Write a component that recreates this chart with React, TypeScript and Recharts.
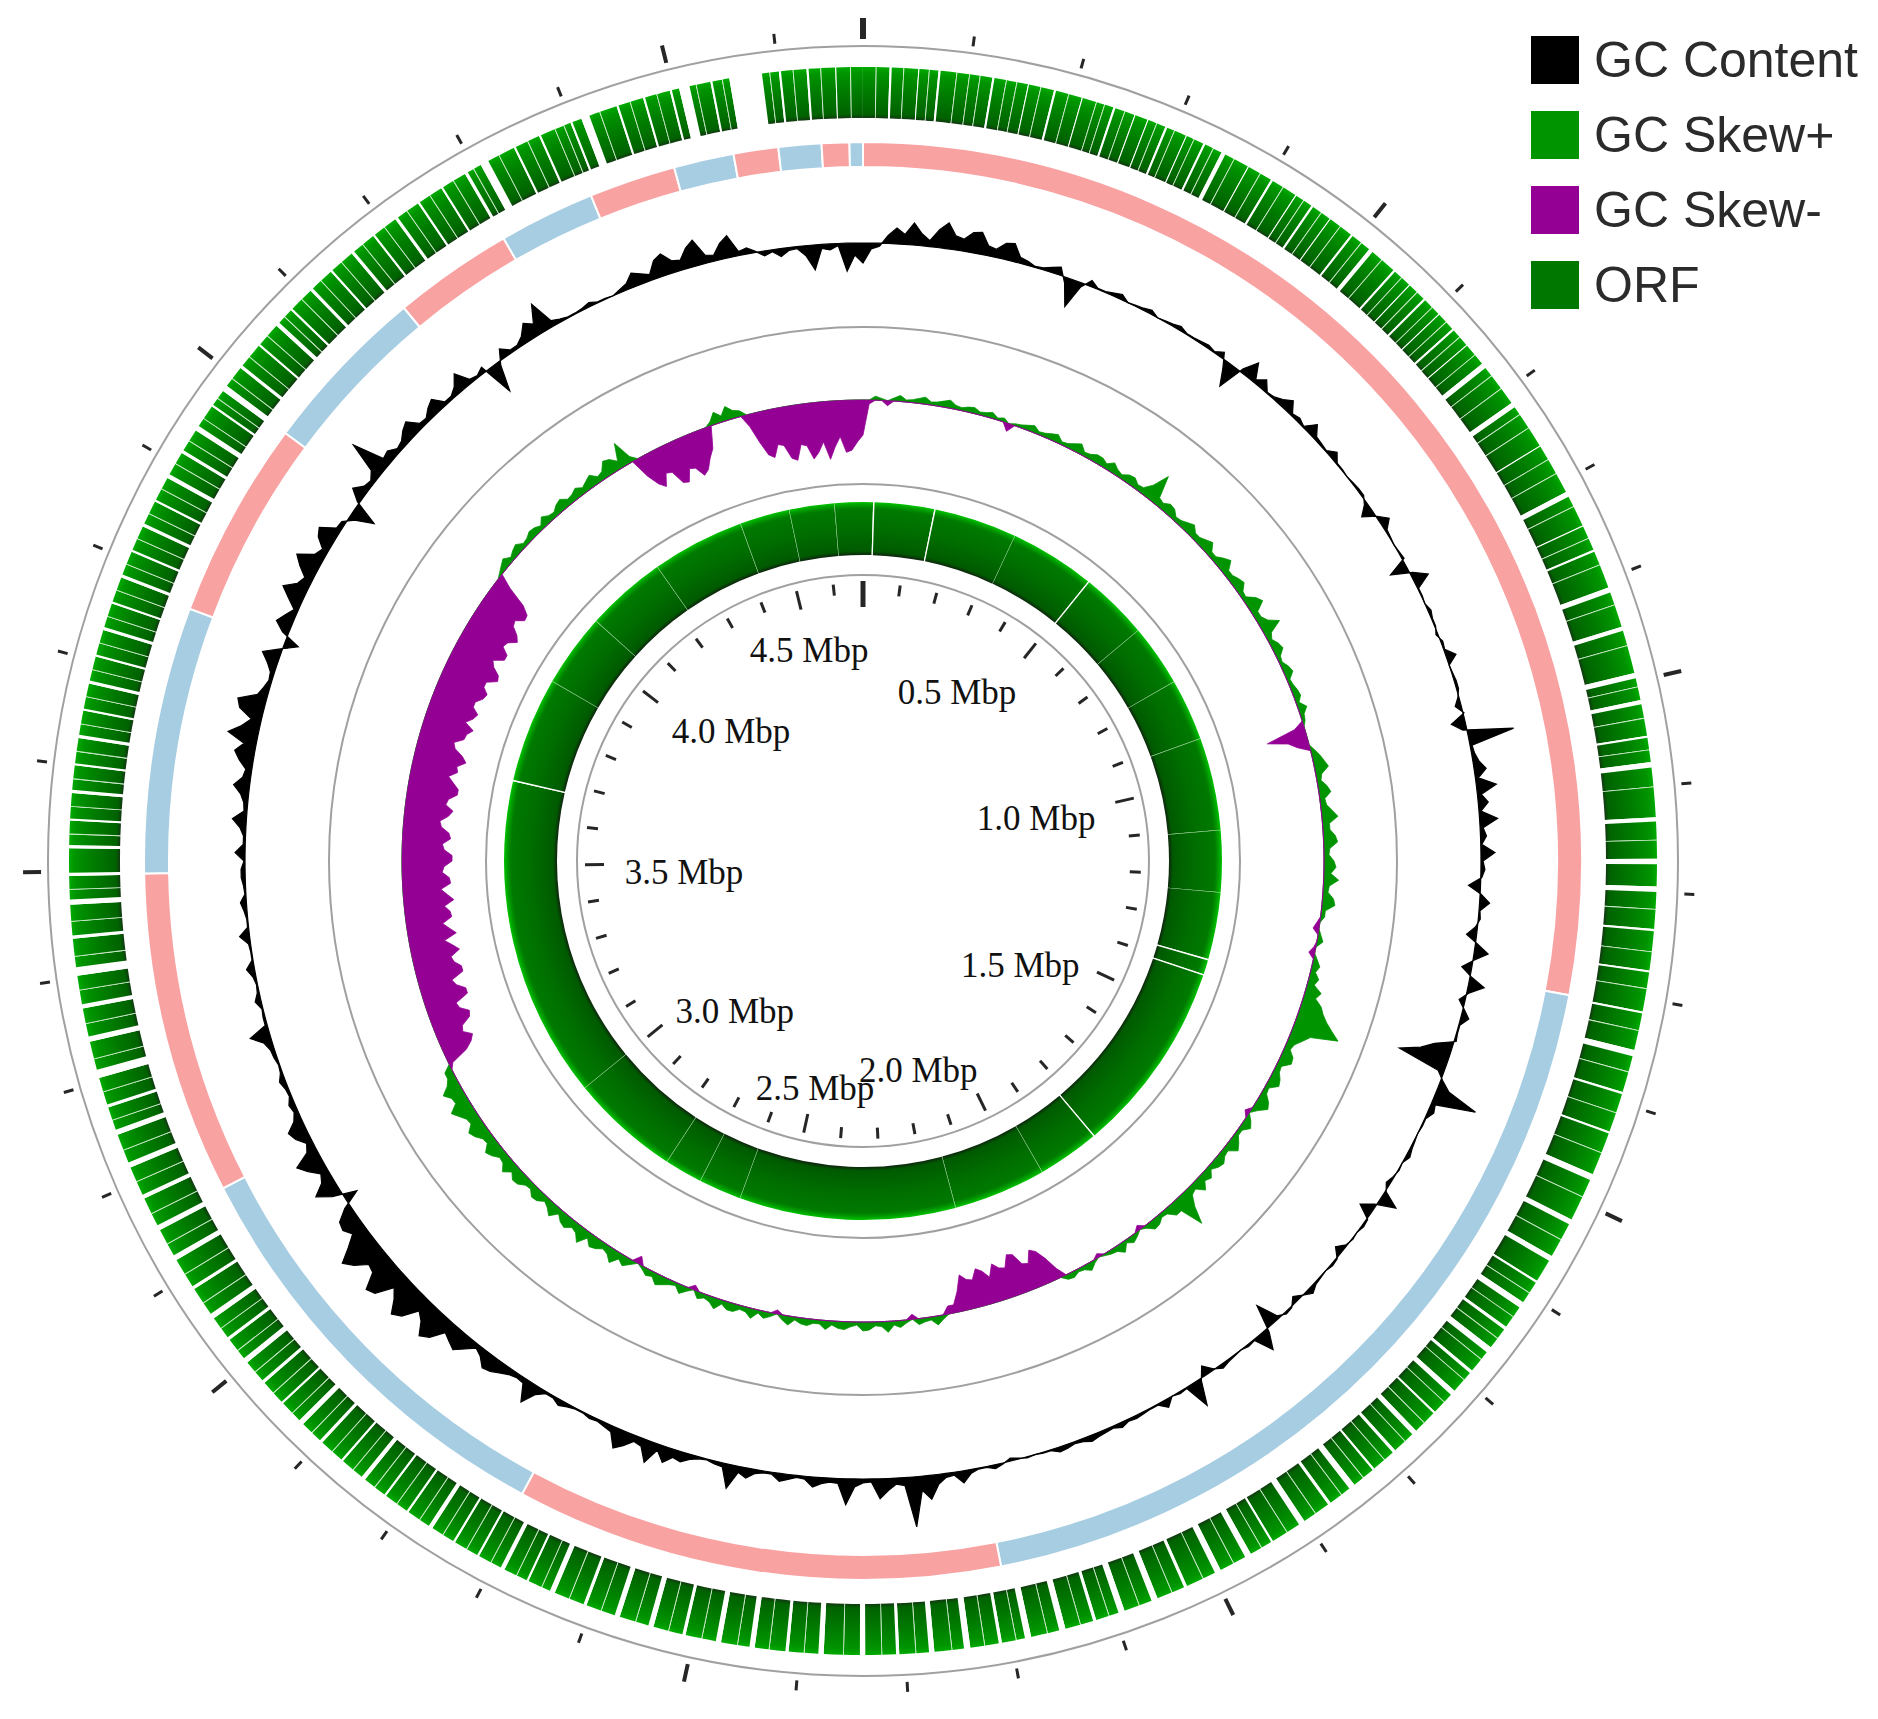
import React from 'react';
import {
  PieChart,
  Pie,
  Cell,
  RadarChart,
  Radar,
  PolarGrid,
  PolarAngleAxis,
  PolarRadiusAxis,
  Legend,
} from 'recharts';

// genome ruler
const GENOME_KB = 4680;
const STEP_KB = 10;

// GC content deviation, one value per 10 kb window, clockwise from 0
const gcContent = [
  -20, -6, -3, 8, 16, 10, 22, 12, 6, 18, 26, 14, 12, 20, 22, 10, 8, 16, 18, 6,
  4, 1, 2, 5, 8, -6, -28, -4, 6, 1, 1, 3, 5, 0, 1, 2, 4, 0, 1, 2,
  4, 1, 1, 2, 3, 1, 6, -8, -24, 4, 18, 3, 10, 1, 2, 6, 12, 2, 4, 1,
  12, 3, 2, 1, 8, 1, 1, 0, 1, 2, 2, -3, -12, 1, 10, 2, 1, 0, 1, 2,
  -18, 3, 16, 1, 1, 0, 3, 1, 1, -2, 2, 1, 10, 0, 1, 2, 2, -1, -6, 1,
  -14, -4, 46, 2, 3, 6, 12, 3, 20, 4, 10, 2, 18, 3, 6, 1, 14, 2, 4, 1,
  -12, 1, 10, 1, 2, -2, -10, 2, 14, 1, -10, 1, 16, 2, -6, 1, 8, 1, 1, 2,
  -18, -30, -50, -6, 2, 12, 44, 4, 6, 1, 1, 0, 1, 2, 4, 0, 1, -1, -4, 1,
  18, -2, -14, 1, 2, 0, 1, -1, -8, 1, 2, 0, 1, 2, 6, 0, -6, 1, 2, -3,
  -24, 4, 20, 1, 2, 0, 1, 2, 4, -1, -10, 2, 26, 1, 2, 0, 8, 1, 1, 2,
  3, 2, 5, 2, 3, 4, 6, 3, 2, 4, 5, 1, 1, 0, 1, -1, -3, 1, 4, 1,
  1, 4, 12, 3, 4, 10, 24, 14, 50, 8, 6, 12, 20, 3, 4, 8, 26, 5, 4, 6,
  10, 3, 2, 5, 8, 2, 2, 4, 10, 6, 24, 4, 3, 1, 2, 5, 10, 8, 16, 6,
  22, 8, 6, 14, 20, 6, 4, 2, 3, 1, 1, 3, 6, 2, 2, 8, 22, 5, 4, 6,
  10, 14, 16, 8, 4, 12, 20, 16, 12, 26, 32, 20, 14, 30, 36, 24, 16, 34, 38, 22,
  20, 32, 40, 26, 14, 20, 18, 6, -14, 10, 24, 12, 8, 18, 26, 10, 6, 14, 18, 8,
  4, 6, 2, 3, 6, 2, 1, 3, 4, 8, 20, 2, 2, 1, 6, 2, 1, 3, 8, 1,
  1, 2, 10, 1, 1, 3, 6, 1, 2, 4, 4, 1, 10, 2, 2, 6, 14, 3, 4, 8,
  16, 8, 6, 14, 20, 12, 30, 18, 10, 24, 28, 10, 6, 3, 4, 10, 18, 2, -14, 6,
  16, 10, 4, 14, 24, 12, 8, 18, 26, 10, 6, 16, 20, 5, 4, -6, -24, 2, 14, 6,
  4, 10, 40, 8, 10, 4, 6, 12, 16, 5, 4, 10, 14, 3, 3, 8, 18, 4, 2, 6,
  -30, -4, 10, 3, 3, 8, 18, 12, 30, 6, 3, 1, 1, 2, 4, 1, 1, 0, 3, 6,
  14, 10, 6, 18, 22, 12, 10, 20, 26, 8, 6, 16, 22, 4, 6, 1, -5, -2, -8, -3,
  -2, -10, -25, -4, -6, -2, -28, -12,
];

// GC skew, same windows (positive = leading strand)
const gcSkew = [
  -35, -4, 4, 2, -5, 3, 6, 2, 3, 5, 7, 3, 4, 6, 8, 4, 3, 5, 6, 3,
  4, 6, 2, 4, -8, 2, 3, 5, 7, 3, 4, 6, 8, 3, 4, 7, 10, 4, 5, 8,
  8, 5, 10, 6, 4, 8, 9, 5, 6, 14, 30, 8, 6, 10, 9, 4, 5, 8, 11, 6,
  6, 9, 12, 5, 5, 10, 14, 6, 6, 9, 11, 5, 4, 12, 16, 6, 6, 10, 20, 7,
  4, 8, 10, 4, 3, 7, 9, 3, 4, 6, 7, 3, 9, 4, 3, -10, -40, -20, -12, 4,
  8, 11, 14, 6, 4, 9, 12, 5, 6, 11, 16, 7, 7, 12, 14, 6, 5, 10, 12, 7,
  15, 6, 5, 11, 13, 4, 4, -3, -6, 3, 6, -2, -6, 4, 8, 5, 10, 7, 16, 12,
  20, 24, 30, 38, 47, 20, 14, 8, 6, 12, 13, 5, 6, 10, 12, 4, 5, 11, 14, 6,
  -5, 6, 10, 4, 4, 9, 13, 5, 6, 10, 8, 4, 10, 7, 14, 6, 8, 18, 35, 12,
  12, 5, 4, 8, 9, 3, -5, 4, 7, 3, 10, 5, 4, 2, -4, 3, 8, 4, 3, 6,
  5, -10, -24, -34, -38, -26, -28, -40, -42, -30, -32, -38, -26, -34, -38, -28, -30, -36, -20, -8,
  -8, 4, 9, 3, 4, 6, -5, 3, 7, 4, 11, 5, 4, 8, 9, 3, 5, 8, 7, 4,
  9, 4, 4, 7, 6, 3, 9, 5, -4, 4, 7, 3, 10, 5, 4, 8, 8, 4, 11, 6,
  4, 7, -5, 4, 9, 3, 5, 8, 11, 5, 7, 3, -8, 5, 10, 6, 14, 8, 6, 10,
  12, 6, 16, 9, 7, 12, 10, 5, 13, 8, 5, 10, 11, 6, 7, 12, 13, 8, 15, 9,
  8, 13, 16, 9, 10, 15, 18, 11, 12, 17, 22, 13, 14, 20, 12, 8, 8, -4, -22, -30,
  -34, -26, -28, -38, -40, -32, -30, -44, -44, -36, -33, -46, -46, -40, -38, -48, -42, -35, -48, -42,
  -36, -46, -45, -40, -50, -44, -38, -48, -47, -40, -42, -50, -50, -42, -40, -48, -46, -38, -36, -44,
  -48, -40, -42, -50, -50, -44, -38, -46, -44, -52, -47, -38, -35, -44, -45, -50, -40, -46, -49, -42,
  -42, -48, -50, -44, -44, -54, -52, -44, -40, -50, -50, -42, -44, -52, -48, -40, -38, -46, -45, -36,
  -15, 3, 6, 9, 4, 7, 9, 4, 5, 8, 7, 4, 10, 6, 5, 9, 11, 6, 7, 10,
  6, 9, 12, 6, 8, 16, 14, 8, 25, 6, -20, -32, -38, -26, -28, -42, -44, -32, -34, -44,
  -40, -30, -22, 4, 12, 6, 14, 8, 6, -12, -30, -44, -48, -36, -38, -52, -55, -40, -42, -56,
  -50, -40, -58, -46, -36, -52, -50, -42,
];

// contigs, kb, clockwise from 0 (alternating pink / blue)
const contigLengths = [1310, 886, 512, 450, 339, 280, 208, 179, 126, 101, 91, 63, 47, 45, 29, 14];

// outer ORF track: clear breaks between genes [start kb, length kb]
const orfOuterGaps = [
  [25, 2], [52, 1], [71, 2], [122, 2], [156, 1], [181, 2], [208, 1], [239, 2], [260, 1], [273, 1],
  [291, 2], [312, 1], [330, 2], [349, 4], [377, 1], [402, 2], [429, 1], [447, 2], [468, 1], [493, 2],
  [515, 4], [545, 2], [565, 1], [584, 2], [604, 1], [623, 2], [643, 1], [666, 5], [712, 5], [760, 1],
  [810, 5], [845, 1], [870, 2], [908, 5], [947, 4], [992, 5], [1018, 4], [1052, 2], [1077, 5], [1129, 4],
  [1168, 5], [1194, 5], [1234, 2], [1273, 2], [1312, 2], [1349, 6], [1390, 2], [1429, 2], [1472, 6], [1519, 5],
  [1558, 5], [1585, 2], [1609, 6], [1637, 3], [1661, 6], [1689, 3], [1714, 5], [1741, 2], [1766, 5], [1793, 3],
  [1819, 2], [1843, 6], [1871, 3], [1901, 6], [1936, 2], [1960, 6], [1992, 6], [2027, 3], [2057, 6], [2090, 6],
  [2118, 3], [2148, 6], [2181, 6], [2209, 3], [2239, 6], [2273, 5], [2306, 3], [2338, 5], [2377, 5], [2410, 3],
  [2442, 5], [2474, 5], [2508, 3], [2539, 5], [2572, 5], [2605, 3], [2637, 5], [2664, 2], [2689, 4], [2716, 2],
  [2742, 2], [2767, 4], [2794, 2], [2820, 2], [2845, 4], [2872, 2], [2898, 3], [2923, 5], [2950, 2], [2976, 3],
  [3001, 5], [3028, 3], [3053, 5], [3086, 3], [3118, 5], [3150, 5], [3183, 4], [3215, 5], [3248, 5], [3275, 3],
  [3304, 8], [3339, 5], [3371, 4], [3402, 8], [3437, 3], [3469, 5], [3496, 3], [3522, 3], [3548, 2], [3574, 3],
  [3600, 2], [3626, 3], [3652, 2], [3678, 3], [3704, 2], [3730, 3], [3756, 2], [3782, 3], [3808, 2], [3834, 3],
  [3860, 2], [3885, 4], [3912, 3], [3937, 5], [3964, 2], [3982, 6], [4009, 3], [4036, 2], [4061, 4], [4081, 2],
  [4107, 3], [4133, 2], [4159, 3], [4185, 2], [4211, 3], [4237, 2], [4263, 2], [4289, 3], [4306, 8], [4341, 2],
  [4367, 2], [4399, 2], [4410, 8], [4445, 2], [4471, 2], [4497, 2], [4506, 10], [4536, 2], [4554, 31], [4601, 2],
  [4627, 2], [4654, 1],
];

// outer ORF track: faint gene boundaries inside the blocks (kb)
const orfOuterSeams = [
  12, 38, 62, 88, 100, 110, 135, 145, 168, 195, 222, 230, 250, 282, 300, 320, 340, 362, 390, 415,
  438, 458, 480, 505, 530, 555, 575, 595, 614, 633, 655, 680, 695, 725, 740, 775, 790, 825, 858, 885,
  925, 965, 1005, 1035, 1065, 1100, 1150, 1215, 1255, 1290, 1330, 1370, 1410, 1450, 1495, 1540, 1598, 1625,
  1650, 1675, 1700, 1728, 1755, 1780, 1806, 1832, 1858, 1888, 1920, 1948, 1978, 2010, 2042, 2075, 2105,
  2133, 2165, 2195, 2225, 2256, 2290, 2322, 2358, 2395, 2428, 2458, 2492, 2524, 2556, 2590, 2622, 2650,
  2676, 2703, 2729, 2755, 2781, 2807, 2833, 2859, 2885, 2911, 2937, 2963, 2989, 3015, 3041, 3070, 3102,
  3135, 3167, 3200, 3232, 3262, 3290, 3322, 3356, 3388, 3420, 3453, 3483, 3535, 3561, 3587, 3613, 3639,
  3665, 3691, 3717, 3743, 3769, 3795, 3821, 3847, 3873, 3900, 3925, 3950, 3973, 3996, 4022, 4048, 4072,
  4095, 4120, 4146, 4172, 4198, 4224, 4250, 4276, 4298, 4325, 4355, 4383, 4392, 4428, 4458, 4484, 4522,
  4547, 4592, 4614, 4640, 4668,
];

// inner ORF track: clear breaks and faint seams [start kb, length kb]
const orfInnerGaps = [[21, 3], [149, 3], [505, 3], [1376, 3], [1409, 3], [1818, 3], [3677, 3]];
const orfInnerSeams = [
  [325, 1], [650, 1], [780, 1], [910, 1], [1105, 1], [1235, 1], [1950, 1], [2145, 1], [2600, 1],
  [2690, 1], [2770, 1], [3000, 1], [3900, 1], [4055, 1], [4225, 1], [4420, 1], [4525, 1], [4620, 1],
];

const legendItems = [
  { label: 'GC Content', color: '#000000' },
  { label: 'GC Skew+', color: '#009400' },
  { label: 'GC Skew-', color: '#940094' },
  { label: 'ORF', color: '#007800' },
];

const W = 1878;
const H = 1719;
const CX = 863;
const CY = 861;
const NO_MARGIN = { top: 0, right: 0, bottom: 0, left: 0 };
const RAD = Math.PI / 180;

const trackData = gcContent.map((gc, i) => ({ kb: i * STEP_KB, gc, skew: gcSkew[i] }));

const contigData = contigLengths.map((len, i) => ({ len, color: i % 2 === 0 ? '#f8a2a2' : '#a7cde2' }));

type Mark = { s: number; l: number; fill: string };

function ringSegments(marks: Mark[], fill: string) {
  const sorted = [...marks].sort((a, b) => a.s - b.s);
  const out: { len: number; fill: string }[] = [];
  let pos = 0;
  for (const m of sorted) {
    if (m.s < pos) continue;
    if (m.s > pos) out.push({ len: m.s - pos, fill });
    out.push({ len: m.l, fill: m.fill });
    pos = m.s + m.l;
  }
  if (pos < GENOME_KB) out.push({ len: GENOME_KB - pos, fill });
  return out;
}

const outerOrfData = ringSegments(
  [
    ...orfOuterGaps.map(([s, l]) => ({ s, l, fill: '#ffffff' })),
    ...orfOuterSeams.map((s) => ({ s, l: 0.8, fill: '#c4e8c4' })),
  ],
  'url(#orfOuterGrad)'
);
const innerOrfData = ringSegments(
  [
    ...orfInnerGaps.map(([s, l]) => ({ s, l, fill: '#ffffff' })),
    ...orfInnerSeams.map(([s, l]) => ({ s, l, fill: '#6cc06c' })),
  ],
  'url(#orfInnerGrad)'
);

function polarAt(cx: number, cy: number, r: number, angle: number) {
  return { x: cx + r * Math.cos(-angle * RAD), y: cy + r * Math.sin(-angle * RAD) };
}
function polar(r: number, angle: number) {
  return polarAt(CX, CY, r, angle);
}

// contig block drawn as an arc with a pointed clockwise end
const ArrowSector = (props: any) => {
  const { cx, cy, innerRadius, outerRadius, startAngle, endAngle, fill } = props;
  const span = endAngle - startAngle;
  const dir = span < 0 ? -1 : 1;
  const tip = Math.min(0.9, Math.abs(span) * 0.45);
  const shoulder = endAngle - dir * tip;
  const mid = (innerRadius + outerRadius) / 2;
  const o0 = polarAt(cx, cy, outerRadius, startAngle);
  const o1 = polarAt(cx, cy, outerRadius, shoulder);
  const t = polarAt(cx, cy, mid, endAngle);
  const i1 = polarAt(cx, cy, innerRadius, shoulder);
  const i0 = polarAt(cx, cy, innerRadius, startAngle);
  const large = Math.abs(shoulder - startAngle) > 180 ? 1 : 0;
  const sweep = dir < 0 ? 1 : 0;
  const d = [
    `M${o0.x},${o0.y}`,
    `A${outerRadius},${outerRadius} 0 ${large} ${sweep} ${o1.x},${o1.y}`,
    `L${t.x},${t.y}`,
    `L${i1.x},${i1.y}`,
    `A${innerRadius},${innerRadius} 0 ${large} ${1 - sweep} ${i0.x},${i0.y}`,
    'Z',
  ].join(' ');
  return <path d={d} fill={fill} stroke="#ffffff" strokeWidth={1.5} />;
};

const OuterTick = (props: any) => {
  const kb = Number(props.payload.value);
  if (kb % 100 !== 0) return <g />;
  const zero = kb === 0;
  const major = kb % 500 === 0;
  const a = polar(822, props.payload.coordinate);
  const b = polar(zero ? 843 : major ? 840 : 832, props.payload.coordinate);
  return (
    <line x1={a.x} y1={a.y} x2={b.x} y2={b.y} stroke="#262626" strokeWidth={zero ? 6 : major ? 4 : 3} />
  );
};

const InnerTick = (props: any) => {
  const kb = Number(props.payload.value);
  if (kb % 100 !== 0) return <g />;
  const angle = props.payload.coordinate;
  const zero = kb === 0;
  const major = kb % 500 === 0;
  const a = polar(zero ? 280 : 278, angle);
  const b = polar(zero ? 254 : major ? 259 : 267, angle);
  let label = null;
  if (major && !zero) {
    const p = polar(225, angle);
    const s = (p.x - CX) / 225;
    const k = Math.min(1, Math.max(0, (Math.abs(s) - 0.25) / 0.2));
    label = (
      <text
        x={p.x - 46 * Math.sign(s) * k}
        y={p.y + 8}
        textAnchor="middle"
        dominantBaseline="central"
        fontFamily='"Liberation Serif", "Times New Roman", serif'
        fontSize={35}
        fill="#111111"
      >
        {`${(kb / 1000).toFixed(1)} Mbp`}
      </text>
    );
  }
  return (
    <g>
      <line x1={a.x} y1={a.y} x2={b.x} y2={b.y} stroke="#262626" strokeWidth={zero ? 5 : 3} />
      {label}
    </g>
  );
};

const renderLegend = () => (
  <div
    style={{
      fontFamily: '"Liberation Sans", Arial, sans-serif',
      fontSize: 50,
      color: '#2b2b2b',
      lineHeight: 1,
    }}
  >
    {legendItems.map((item) => (
      <div key={item.label} style={{ display: 'flex', alignItems: 'center', height: 75 }}>
        <span
          style={{ display: 'inline-block', width: 48, height: 48, background: item.color, marginRight: 15 }}
        />
        <span>{item.label}</span>
      </div>
    ))}
  </div>
);

const layer: React.CSSProperties = { position: 'absolute', left: 0, top: 0 };

export default function App() {
  return (
    <div style={{ position: 'absolute', left: 0, top: 0, width: W, height: H, background: '#ffffff' }}>
      {/* feature rings */}
      <div style={layer}>
        <PieChart width={W} height={H} margin={NO_MARGIN}>
          <defs>
            <radialGradient id="orfOuterGrad" gradientUnits="userSpaceOnUse" cx={CX} cy={CY} r={794}>
              <stop offset={743 / 794} stopColor="#123812" />
              <stop offset={747 / 794} stopColor="#006200" />
              <stop offset={770 / 794} stopColor="#007c00" />
              <stop offset={788 / 794} stopColor="#009400" />
              <stop offset={1} stopColor="#00aa00" />
            </radialGradient>
            <radialGradient id="orfInnerGrad" gradientUnits="userSpaceOnUse" cx={CX} cy={CY} r={359}>
              <stop offset={306 / 359} stopColor="#0e260e" />
              <stop offset={310 / 359} stopColor="#005a00" />
              <stop offset={330 / 359} stopColor="#006c00" />
              <stop offset={352 / 359} stopColor="#007a00" />
              <stop offset={356 / 359} stopColor="#00a000" />
              <stop offset={1} stopColor="#00c400" />
            </radialGradient>
          </defs>
          <Pie
            data={outerOrfData}
            dataKey="len"
            cx={CX}
            cy={CY}
            innerRadius={743}
            outerRadius={794}
            startAngle={90}
            endAngle={-270}
            stroke="none"
            isAnimationActive={false}
          >
            {outerOrfData.map((d, i) => (
              <Cell key={`o-${i}`} fill={d.fill} />
            ))}
          </Pie>
          <Pie
            data={contigData}
            dataKey="len"
            cx={CX}
            cy={CY}
            innerRadius={694}
            outerRadius={719}
            startAngle={90}
            endAngle={-270}
            stroke="#ffffff"
            strokeWidth={2}
            inactiveShape={ArrowSector}
            isAnimationActive={false}
          >
            {contigData.map((d, i) => (
              <Cell key={`c-${i}`} fill={d.color} />
            ))}
          </Pie>
          <Pie
            data={innerOrfData}
            dataKey="len"
            cx={CX}
            cy={CY}
            innerRadius={306}
            outerRadius={359}
            startAngle={90}
            endAngle={-270}
            stroke="none"
            isAnimationActive={false}
          >
            {innerOrfData.map((d, i) => (
              <Cell key={`i-${i}`} fill={d.fill} />
            ))}
          </Pie>
          <Legend content={renderLegend} wrapperStyle={{ left: 1531, top: 22, width: 347 }} />
        </PieChart>
      </div>

      {/* GC content track, grid circles, outer ruler */}
      <div style={layer}>
        <RadarChart
          width={W}
          height={H}
          data={trackData}
          cx={CX}
          cy={CY}
          innerRadius={548}
          outerRadius={688}
          margin={NO_MARGIN}
        >
          <PolarGrid
            gridType="circle"
            radialLines={false}
            polarRadius={[815, 534, 377, 286]}
            stroke="#a0a0a0"
            strokeWidth={2}
          />
          <PolarAngleAxis dataKey="kb" axisLine={false} tickLine={false} tick={OuterTick} />
          <PolarRadiusAxis domain={[-70, 70]} tick={false} axisLine={false} />
          <Radar
            dataKey={(d: any) => [0, d.gc]}
            fill="#000000"
            fillOpacity={1}
            stroke="#000000"
            strokeWidth={1.2}
            isAnimationActive={false}
          />
        </RadarChart>
      </div>

      {/* GC skew track, inner ruler */}
      <div style={layer}>
        <RadarChart
          width={W}
          height={H}
          data={trackData}
          cx={CX}
          cy={CY}
          innerRadius={401}
          outerRadius={521}
          margin={NO_MARGIN}
        >
          <PolarAngleAxis dataKey="kb" axisLine={false} tickLine={false} tick={InnerTick} />
          <PolarRadiusAxis domain={[-60, 60]} tick={false} axisLine={false} />
          <Radar
            dataKey={(d: any) => [0, Math.max(d.skew, 0)]}
            fill="#009400"
            fillOpacity={1}
            stroke="#009400"
            strokeWidth={0.8}
            isAnimationActive={false}
          />
          <Radar
            dataKey={(d: any) => [Math.min(d.skew, 0), 0]}
            fill="#940094"
            fillOpacity={1}
            stroke="#940094"
            strokeWidth={0.8}
            isAnimationActive={false}
          />
        </RadarChart>
      </div>
    </div>
  );
}
